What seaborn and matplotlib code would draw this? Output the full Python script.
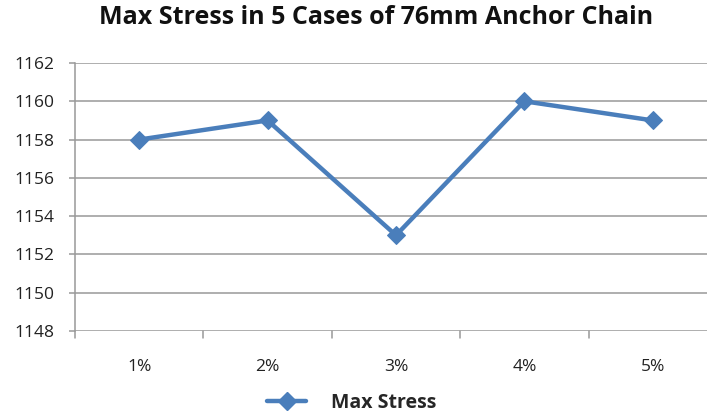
import matplotlib
matplotlib.use("Agg")
import matplotlib.pyplot as plt
import seaborn as sns
import pandas as pd
from matplotlib.lines import Line2D

cases = ["1%", "2%", "3%", "4%", "5%"]
max_stress = [1158, 1159, 1153, 1160, 1159]
y_ticks = [1148, 1150, 1152, 1154, 1156, 1158, 1160, 1162]

sns.set_theme(style="white")
plt.rcParams["font.family"] = ["Open Sans", "DejaVu Sans"]

blue = "#4a7ebb"
grid = "#999999"

df = pd.DataFrame({"case": cases, "stress": max_stress})

fig = plt.figure(figsize=(7.07, 4.16), dpi=100)
W, H = 707, 416
ax = fig.add_axes([75 / W, (H - 331) / H, (717 - 75) / W, (331 - 63) / H])

sns.lineplot(data=df, x="case", y="stress", ax=ax, color=blue, linewidth=3.2,
             marker="D", markersize=9.5, markeredgecolor=blue, sort=False)

ax.set_xlim(-0.5, len(cases) - 0.5)
ax.set_ylim(y_ticks[0], y_ticks[-1])
ax.set_yticks(y_ticks)
ax.set_xticks(range(len(cases)))
ax.set_xticklabels(cases)
ax.set_xlabel("")
ax.set_ylabel("")

for y in y_ticks:
    ax.axhline(y, color=grid, linewidth=1.1, zorder=0)

for s in ["top", "right", "bottom"]:
    ax.spines[s].set_visible(False)
ax.spines["left"].set_color(grid)
ax.spines["left"].set_linewidth(1.1)

ax.tick_params(axis="y", length=4.5, color=grid, width=1.1, labelsize=12.5,
               labelcolor="#222222", left=True, pad=10.5)
ax.tick_params(axis="x", length=0, labelsize=12.5, labelcolor="#222222", pad=20)

# category boundary ticks below the axis
for b in range(len(cases) + 1):
    ax.plot([b - 0.5, b - 0.5], [0, -0.026], transform=ax.get_xaxis_transform(),
            color=grid, linewidth=1.1, clip_on=False)

fig.text(376 / W, 1 - 18 / H, "Max Stress in 5 Cases of 76mm Anchor Chain",
         ha="center", va="center", fontsize=18, fontweight="bold", color="#111111")

handle = Line2D([], [], color=blue, linewidth=3.2, marker="D", markersize=9.5)
fig.legend([handle], ["Max Stress"], loc="center", bbox_to_anchor=(352 / W, 1 - 403 / H),
           frameon=False, prop={"weight": "bold", "size": 14}, handlelength=2.0,
           handletextpad=1.3)

fig.savefig("out.png", dpi=100)
